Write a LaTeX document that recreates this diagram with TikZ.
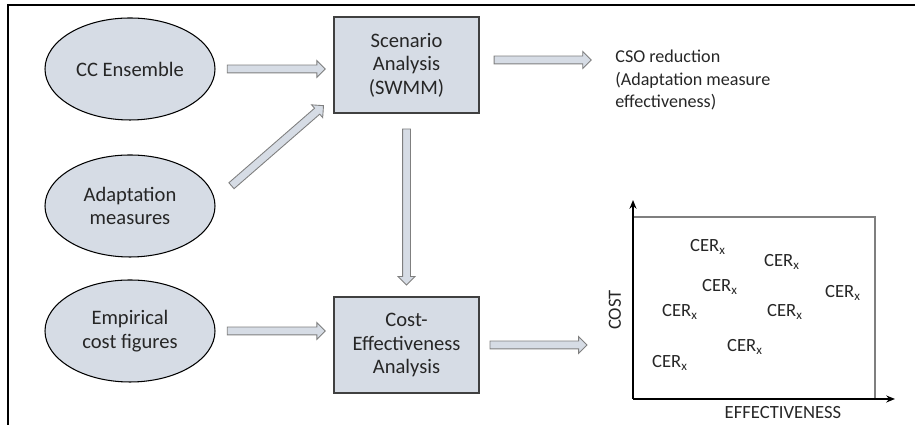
\documentclass[tikz,border=0pt]{standalone}
\usepackage{fontspec}
\setmainfont{Carlito}
\usetikzlibrary{shapes.geometric,shapes.arrows,arrows.meta}
\definecolor{paleblue}{HTML}{D6DCE5}
\definecolor{boxline}{HTML}{404040}
\definecolor{arrowgray}{HTML}{7F7F7F}
\definecolor{inkgray}{HTML}{262626}
\begin{document}
\begin{tikzpicture}[font=\fontsize{11.7}{13.3}\selectfont, text=inkgray]

      \tikzset{inputs/.style={draw=black, line width=0.6pt, ellipse, fill=paleblue, minimum width=3.4cm, minimum height=2.04cm, inner sep=0pt, align=center}}
      \tikzset{analysis/.style={draw=boxline, line width=1pt, rectangle, fill=paleblue, minimum width=2.9cm, minimum height=1.92cm, inner sep=0pt, align=center}}
      \tikzset{blockarrow/.style={single arrow, draw=arrowgray, fill=paleblue, line width=0.5pt, inner xsep=0pt, inner ysep=0.07cm, single arrow head extend=0.09cm, minimum height=#1, sloped, allow upside down}}
      \tikzset{cer/.style={font=\fontsize{10.6}{12.8}\selectfont}}
      \useasboundingbox (0,0) rectangle (18.3,8.5);
%% Frame
      	\draw[line width=0.85pt] (0.16,0) -- (0.16,8.4) -- (18.3,8.4);
%% Inputs
      	\node[inputs] (cc) at (2.6,7.12) {CC Ensemble};
      	\node[inputs] (adapt) at (2.6,4.38) {Adaptation\\measures};
      	\node[inputs] (emp) at (2.6,1.88) {Empirical\\cost figures};
%% Analysis steps
      	\node[analysis] (scen) at (8.13,7.2) {Scenario\\Analysis\\(SWMM)};
      	\node[analysis] (cea) at (8.13,1.6) {Cost-\\Effectiveness\\Analysis};
      	\node[anchor=west, inner sep=0pt, align=left, font=\fontsize{10.3}{12.8}\selectfont] (cso) at (12.3,6.9) {CSO reduction\\(Adaptation measure\\effectiveness)};
%% Plot
      	\coordinate (o) at (12.66,0.52);
      	\coordinate (ytop) at (12.66,4.5);
      	\coordinate (xend) at (17.9,0.52);
      	\coordinate (corner) at (17.5,4.16);
      	\draw[arrowgray, line width=0.6pt] (o |- corner) -- (corner) -- (corner |- o);
      	\draw[line width=1.2pt, -{Stealth[length=5pt,width=4pt]}] (o) -- (ytop);
      	\draw[line width=0.8pt, -{Stealth[length=5pt,width=4pt]}] (o) -- (xend);
      	\node[cer, rotate=90] (cost) at (12.3,2.3) {COST};
      	\node[cer] (eff) at (15.66,0.24) {EFFECTIVENESS};
      	\node[cer] (c1) at (14.16,3.56) {CER\textsubscript{x}};
      	\node[cer] (c2) at (15.64,3.26) {CER\textsubscript{x}};
      	\node[cer] (c3) at (14.4,2.76) {CER\textsubscript{x}};
      	\node[cer] (c4) at (16.86,2.64) {CER\textsubscript{x}};
      	\node[cer] (c5) at (13.6,2.26) {CER\textsubscript{x}};
      	\node[cer] (c6) at (15.7,2.26) {CER\textsubscript{x}};
      	\node[cer] (c7) at (14.9,1.56) {CER\textsubscript{x}};
      	\node[cer] (c8) at (13.4,1.24) {CER\textsubscript{x}};
%Arrows
      	\coordinate (adaptout) at (4.6,4.76);
      	\coordinate (scenin) at (6.44,6.36);
		\path (cc.east) -- (cc.east -| scen.west) node[midway, blockarrow=1.96cm] {};
		\path (adaptout) -- (scenin) node[midway, blockarrow=2.44cm] {};
		\path (emp.east) -- (emp.east -| cea.west) node[midway, blockarrow=1.96cm] {};
		\path (scen.south) -- (cea.north) node[midway, blockarrow=3.12cm] {};
		\path ([yshift=0.1cm]scen.east) -- ([yshift=0.1cm]scen.east -| cso.west) node[pos=0.45, blockarrow=1.94cm] {};
		\path (cea.east) -- (cea.east -| o) node[pos=0.37, blockarrow=1.94cm] {};

	\end{tikzpicture}
\end{document}
